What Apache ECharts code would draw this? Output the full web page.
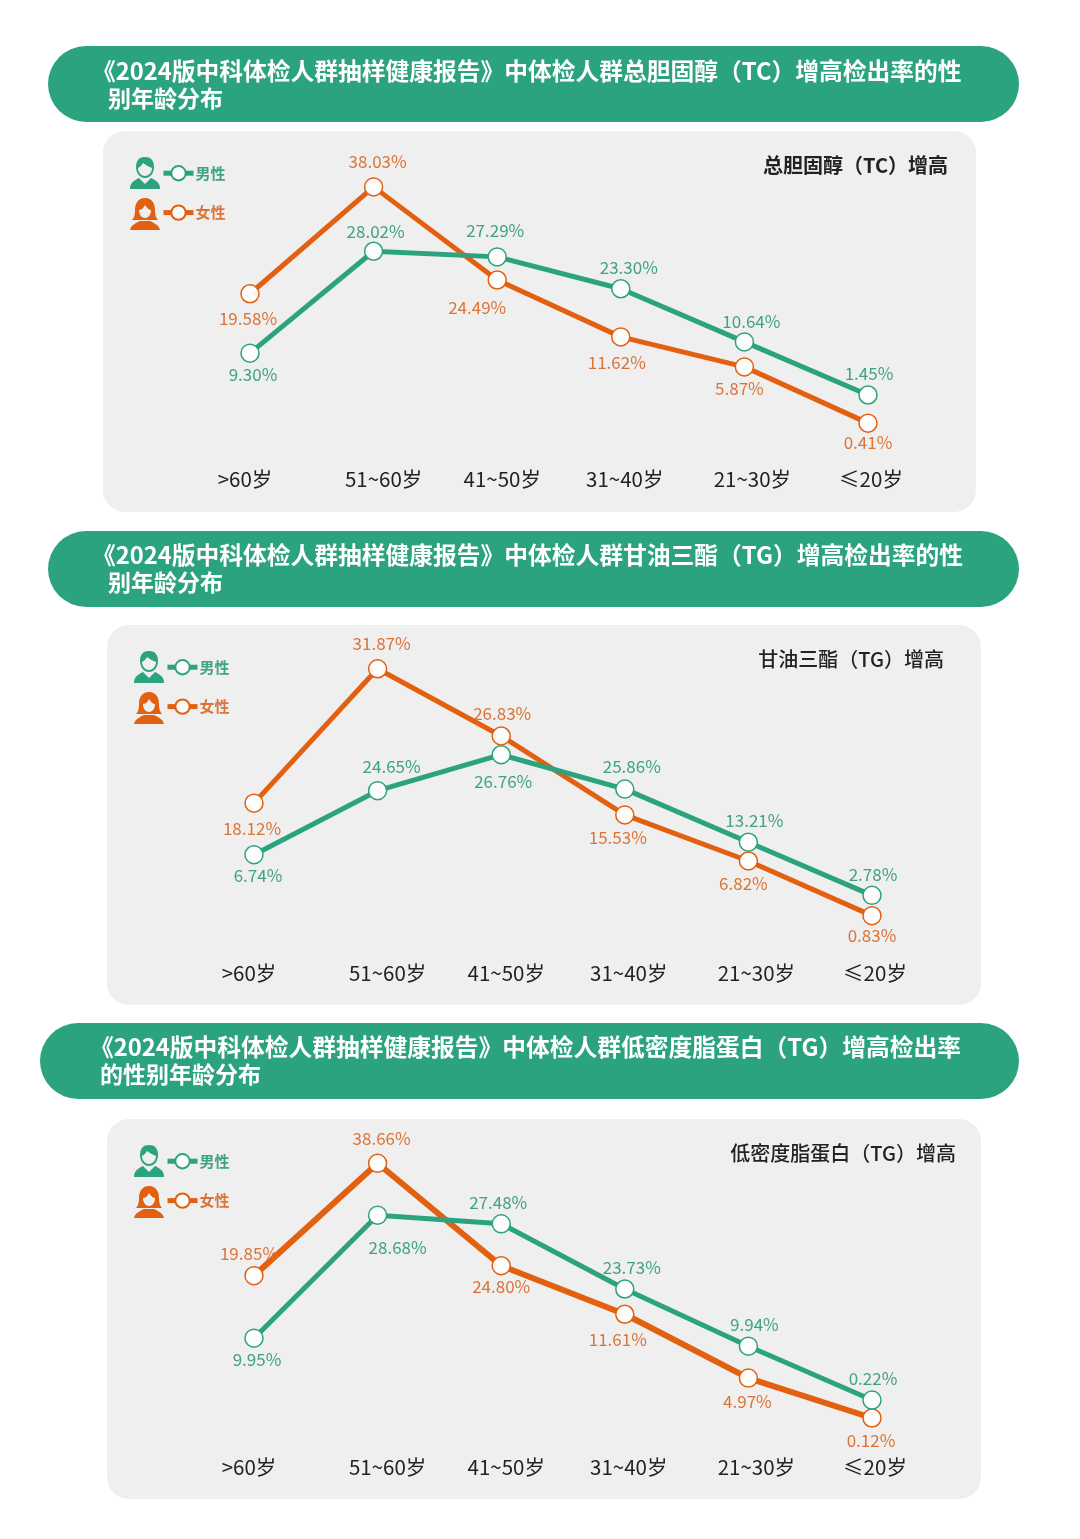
<!DOCTYPE html>
<html><head><meta charset="utf-8">
<style>html,body{margin:0;padding:0;background:#fff}#c{width:1080px;height:1539px}</style>
<script src="https://cdn.jsdelivr.net/npm/echarts@6/dist/echarts.min.js"></script>
</head><body><div id="c"></div>
<script>
const categories = ['>60岁','51~60岁','41~50岁','31~40岁','21~30岁','≤20岁'];

// Printed values, shown as data labels
const tcMale   = [9.30, 28.02, 27.29, 23.30, 10.64, 1.45];
const tcFemale = [19.58, 38.03, 24.49, 11.62, 5.87, 0.41];
const tgMale   = [6.74, 24.65, 26.76, 25.86, 13.21, 2.78];
const tgFemale = [18.12, 31.87, 26.83, 15.53, 6.82, 0.83];
const ldlMale   = [9.95, 28.68, 27.48, 23.73, 9.94, 0.22];
const ldlFemale = [19.85, 38.66, 24.80, 11.61, 4.97, 0.12];

// The source drawing is schematic: its points do not sit proportionally to the
// printed values. These are the heights, in axis units.
const tcMaleHeight   = [11.5, 27.8, 26.9, 21.8, 13.3, 4.8];
const tcFemaleHeight = [21.0, 38.1, 23.2, 14.1, 9.3, 0.3];
const tgMaleHeight   = [8.1, 16.3, 20.9, 16.5, 9.7, 2.9];
const tgFemaleHeight = [14.7, 31.9, 23.3, 13.2, 7.3, 0.3];
const ldlMaleHeight   = [12.3, 30.8, 29.5, 19.7, 11.1, 3.0];
const ldlFemaleHeight = [21.7, 38.6, 23.2, 15.9, 6.3, 0.3];

const heading1 = ['《2024版中科体检人群抽样健康报告》中体检人群总胆固醇（TC）增高检出率的性','别年龄分布'];
const heading2 = ['《2024版中科体检人群抽样健康报告》中体检人群甘油三酯（TG）增高检出率的性','别年龄分布'];
const heading3 = ['《2024版中科体检人群抽样健康报告》中体检人群低密度脂蛋白（TG）增高检出率','的性别年龄分布'];
const panelTitles = ['总胆固醇（TC）增高','甘油三酯（TG）增高','低密度脂蛋白（TG）增高'];
const maleName = '男性', femaleName = '女性';

// Label placement (style only, separate from the data)
const tcMaleSide = ['bottom','top','top','top','top','top'];
const tcFemaleSide = ['bottom','top','bottom','bottom','bottom','bottom'];
const tgMaleSide = ['bottom','top','bottom','top','top','top'];
const tgFemaleSide = ['bottom','top','top','bottom','bottom','bottom'];
const ldlMaleSide = ['bottom','bottom','top','top','top','top'];
const ldlFemaleSide = ['top','top','bottom','bottom','bottom','bottom'];
const tcMaleShift = [[3,-4],[2,6],[-2,-1],[8,4],[7,5],[1,4]];
const tcFemaleShift = [[-2,0],[4,0],[-20,2],[-4,0],[-5,-4],[0,-6]];
const tgMaleShift = [[4,-4],[14,1],[2,2],[7,3],[6,4],[1,4]];
const tgFemaleShift = [[-2,0],[4,0],[1,3],[-7,-3],[-5,-3],[0,-5]];
const ldlMaleShift = [[3,-4],[20,7],[-3,4],[7,4],[6,4],[1,4]];
const ldlFemaleShift = [[-5,3],[4,0],[0,-4],[-7,0],[-1,-2],[-1,-3]];
const axisLabelShift = [-5,10,5,4,8,3];

const GREEN = '#2ba37e', ORANGE = '#e2600f', GREEN_T = '#3fa286', ORANGE_T = '#dc7437';
const FONT = '"Noto Sans CJK SC","Noto Sans",sans-serif';

const layouts = [
  { pill:[48,46,971,76], h:[92,108,71,98], panel:[103,131,873,381], grid:[250,868,175,425], yMax:40, ox:0, oy:0, tx:948, ty:165, w:'bold', margin:44, fw:5 },
  { pill:[48,531,971,76], h:[92,108,555,582], panel:[107,625,874,380], grid:[254,872,668,918], yMax:32, ox:4, oy:494, tx:944, ty:659, w:'500', margin:45, fw:5 },
  { pill:[40,1023,979,76], h:[90,100,1047,1074], panel:[107,1119,874,380], grid:[254,872,1154,1420], yMax:40, ox:4, oy:988, tx:956, ty:1153, w:'500', margin:37, fw:6 }
];
const charts = [
  { head:heading1, m:tcMale, f:tcFemale, mh:tcMaleHeight, fh:tcFemaleHeight, ms:tcMaleSide, fs:tcFemaleSide, mo:tcMaleShift, fo:tcFemaleShift },
  { head:heading2, m:tgMale, f:tgFemale, mh:tgMaleHeight, fh:tgFemaleHeight, ms:tgMaleSide, fs:tgFemaleSide, mo:tgMaleShift, fo:tgFemaleShift },
  { head:heading3, m:ldlMale, f:ldlFemale, mh:ldlMaleHeight, fh:ldlFemaleHeight, ms:ldlMaleSide, fs:ldlFemaleSide, mo:ldlMaleShift, fo:ldlFemaleShift }
];

const iconShapes = {
  maleHead:'M15 0C8 0 6 5 6 10C6 15 9 21 15 21C21 21 24 15 24 10C24 5 22 0 15 0Z',
  maleFace:'M8 11C10 10 12 8 13 6C16 8 19 10 22 11C22 15 19 19 15 19C11 19 8 15 8 11Z',
  maleBody:'M0 32C0 26 3 24 9 21L15 27L21 21C27 24 30 26 30 32Z',
  femaleHair:'M15 0C7 0 5 7 5 12C5 17 4 20 2 22L28 22C26 20 25 17 25 12C25 7 23 0 15 0Z',
  femaleFace:'M9 12C11 12 14 10 15 7C17 10 19 12 21 12C21 16 19 20 15 20C11 20 9 16 9 12Z',
  femaleBody:'M0 32C1 27 6 25 10 23L20 23C24 25 29 27 30 32Z'
};
Object.keys(iconShapes).forEach(k=>{
  echarts.graphic.registerShape(k, echarts.graphic.extendPath(iconShapes[k], {}));
});
const maleIcon = [['maleHead',GREEN],['maleFace','#efefef'],['maleBody',GREEN]];
const femaleIcon = [['femaleHair',ORANGE],['femaleFace','#efefef'],['femaleBody',ORANGE]];

function buildSeries(idx, name, values, heights, sides, shifts, color, textColor, width) {
  return {
    type:'line', name, xAxisIndex:idx, yAxisIndex:idx, animation:false, silent:true,
    data: heights.map((h,i)=>({
      value:h, printed:values[i],
      label:{ position:sides[i], offset:shifts[i], formatter: values[i].toFixed(2)+'%' }
    })),
    symbol:'circle', symbolSize:18,
    lineStyle:{ color, width },
    itemStyle:{ color:'#fdfdfb', borderColor:color, borderWidth:1.5 },
    label:{ show:true, color:textColor, fontSize:17, fontFamily:FONT, distance:7 }
  };
}

const axisData = categories.map((c,i)=>{
  const d = axisLabelShift[i];
  return { value:c, textStyle:{ padding: d>=0 ? [0,0,0,2*d] : [0,-2*d,0,0] } };
});

const option = { backgroundColor:'#fff', animation:false, grid:[], xAxis:[], yAxis:[], series:[], legend:[], graphic:[] };
layouts.forEach((L,i)=>{
  const C = charts[i];
  option.grid.push({ left:L.grid[0], width:L.grid[1]-L.grid[0], top:L.grid[2], height:L.grid[3]-L.grid[2] });
  option.xAxis.push({ type:'category', gridIndex:i, data:axisData, boundaryGap:false,
    axisLine:{show:false}, axisTick:{show:false}, splitLine:{show:false},
    axisLabel:{ color:'#222', fontSize:20.5, fontFamily:FONT, margin:L.margin, interval:0 } });
  option.yAxis.push({ type:'value', gridIndex:i, min:0, max:L.yMax, show:false, splitLine:{show:false} });
  option.series.push(buildSeries(i, femaleName, C.f, C.fh, C.fs, C.fo, ORANGE, ORANGE_T, L.fw));
  option.series.push(buildSeries(i, maleName, C.m, C.mh, C.ms, C.mo, GREEN, GREEN_T, 5));
  option.legend.push({ left:156+L.ox, top:160+L.oy, orient:'vertical', itemGap:23, itemWidth:30, itemHeight:18,
    selectedMode:false, lineStyle:{ width:5 }, textStyle:{ fontFamily:FONT, fontSize:15, fontWeight:'bold', padding:[0,0,0,-3] },
    data:[ {name:maleName, textStyle:{color:GREEN_T}}, {name:femaleName, textStyle:{color:ORANGE_T}} ] });

  option.graphic.push({ type:'rect', z:-20, silent:true,
    shape:{ x:L.pill[0], y:L.pill[1], width:L.pill[2], height:L.pill[3], r:38 }, style:{ fill:'#2ba37e' } });
  option.graphic.push({ type:'rect', z:-20, silent:true,
    shape:{ x:L.panel[0], y:L.panel[1], width:L.panel[2], height:L.panel[3], r:22 }, style:{ fill:'#efefef' } });
  C.head.forEach((line,k)=>{
    option.graphic.push({ type:'text', z:5, silent:true, x:k===0?L.h[0]:L.h[1], y:L.h[2+k],
      style:{ text:line, fill:'#fff', font:'bold '+(k===0?'23.75':'23')+'px '+FONT, verticalAlign:'middle' } });
  });
  option.graphic.push({ type:'text', z:5, silent:true, x:L.tx, y:L.ty,
    style:{ text:panelTitles[i], fill:'#222', font:L.w+' 20px '+FONT, align:'right', verticalAlign:'middle' } });
  [[maleIcon,157],[femaleIcon,198]].forEach(([parts,y])=>{
    parts.forEach(p=>{
      option.graphic.push({ type:p[0], z:5, silent:true, x:130+L.ox, y:y+L.oy, style:{ fill:p[1] } });
    });
  });
});
echarts.init(document.getElementById('c')).setOption(option);
</script></body></html>
